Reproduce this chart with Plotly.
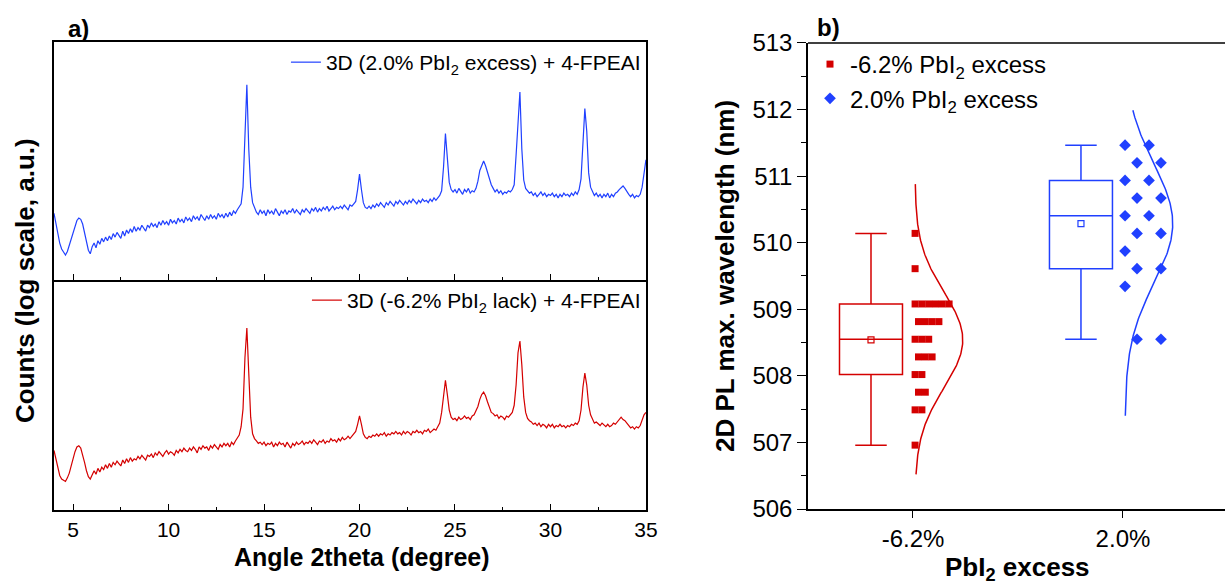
import numpy as np
import plotly.graph_objects as go

# ---------------- data: panel a) XRD, log10(counts) ----------------
# sampled every 0.1 degree from 4.0 to 35.0 (one row per degree)
ANGLE = np.round(np.arange(4.0, 35.0001, 0.1), 1)

LOG_COUNTS_EXCESS = [  # 3D (2.0% PbI2 excess) + 4-FPEAI
    2.56, 2.47, 2.38, 2.31, 2.26, 2.24, 2.21, 2.24, 2.29, 2.34,   # 4
    2.41, 2.46, 2.50, 2.52, 2.51, 2.47, 2.40, 2.31, 2.25, 2.22,   # 5
    2.28, 2.31, 2.27, 2.33, 2.30, 2.35, 2.32, 2.36, 2.33, 2.37,   # 6
    2.34, 2.39, 2.36, 2.40, 2.38, 2.35, 2.41, 2.37, 2.42, 2.39,   # 7
    2.43, 2.40, 2.45, 2.41, 2.44, 2.42, 2.46, 2.43, 2.41, 2.46,   # 8
    2.44, 2.48, 2.45, 2.47, 2.44, 2.49, 2.46, 2.50, 2.47, 2.49,   # 9
    2.46, 2.51, 2.48, 2.50, 2.47, 2.52, 2.49, 2.51, 2.48, 2.53,   # 10
    2.50, 2.52, 2.49, 2.54, 2.51, 2.53, 2.50, 2.55, 2.52, 2.50,   # 11
    2.54, 2.51, 2.55, 2.52, 2.54, 2.51, 2.56, 2.53, 2.55, 2.52,   # 12
    2.56, 2.53, 2.57, 2.54, 2.58, 2.56, 2.59, 2.61, 2.64, 2.78,   # 13
    3.25, 3.64, 3.10, 2.78, 2.65, 2.60, 2.57, 2.55, 2.59, 2.56,   # 14
    2.58, 2.54, 2.59, 2.56, 2.58, 2.55, 2.60, 2.57, 2.54, 2.58,   # 15
    2.56, 2.59, 2.55, 2.58, 2.57, 2.60, 2.56, 2.59, 2.57, 2.55,   # 16
    2.59, 2.57, 2.60, 2.58, 2.56, 2.60, 2.58, 2.61, 2.57, 2.60,   # 17
    2.58, 2.61, 2.59, 2.62, 2.58, 2.60, 2.62, 2.59, 2.61, 2.60,   # 18
    2.62, 2.60, 2.63, 2.61, 2.59, 2.63, 2.62, 2.64, 2.66, 2.76,   # 19
    2.89, 2.76, 2.65, 2.61, 2.60, 2.62, 2.60, 2.63, 2.61, 2.64,   # 20
    2.62, 2.65, 2.63, 2.61, 2.65, 2.63, 2.66, 2.64, 2.62, 2.66,   # 21
    2.64, 2.67, 2.65, 2.63, 2.66, 2.64, 2.67, 2.65, 2.68, 2.66,   # 22
    2.64, 2.67, 2.65, 2.68, 2.66, 2.67, 2.65, 2.68, 2.66, 2.69,   # 23
    2.67, 2.69, 2.71, 2.75, 2.95, 3.23, 3.02, 2.82, 2.76, 2.74,   # 24
    2.76, 2.73, 2.77, 2.74, 2.72, 2.76, 2.74, 2.77, 2.73, 2.75,   # 25
    2.74, 2.77, 2.83, 2.92, 2.97, 3.00, 2.96, 2.90, 2.84, 2.80,   # 26
    2.77, 2.74, 2.76, 2.73, 2.75, 2.72, 2.74, 2.73, 2.75, 2.74,   # 27
    2.76, 2.80, 3.05, 3.30, 3.58, 3.10, 2.84, 2.77, 2.75, 2.73,   # 28
    2.74, 2.71, 2.73, 2.70, 2.72, 2.74, 2.71, 2.73, 2.70, 2.72,   # 29
    2.71, 2.73, 2.70, 2.72, 2.69, 2.72, 2.70, 2.73, 2.71, 2.72,   # 30
    2.70, 2.73, 2.71, 2.74, 2.72, 2.76, 2.85, 3.15, 3.44, 3.25,   # 31
    2.90, 2.78, 2.74, 2.71, 2.73, 2.70, 2.72, 2.69, 2.72, 2.70,   # 32
    2.73, 2.69, 2.72, 2.70, 2.73, 2.74, 2.76, 2.78, 2.79, 2.77,   # 33
    2.75, 2.72, 2.70, 2.72, 2.69, 2.71, 2.70, 2.72, 2.78, 2.88,   # 34
    3.01,                                                         # 35
]

LOG_COUNTS_LACK = [  # 3D (-6.2% PbI2 lack) + 4-FPEAI
    2.50, 2.43, 2.35, 2.29, 2.26, 2.25, 2.24, 2.27, 2.31, 2.37,   # 4
    2.44, 2.49, 2.53, 2.54, 2.52, 2.47, 2.40, 2.33, 2.28, 2.26,   # 5
    2.29, 2.33, 2.30, 2.35, 2.32, 2.36, 2.34, 2.38, 2.35, 2.39,   # 6
    2.36, 2.40, 2.38, 2.41, 2.39, 2.37, 2.42, 2.39, 2.43, 2.40,   # 7
    2.44, 2.41, 2.43, 2.42, 2.45, 2.43, 2.46, 2.44, 2.42, 2.46,   # 8
    2.45, 2.47, 2.44, 2.48, 2.46, 2.49, 2.47, 2.45, 2.48, 2.50,   # 9
    2.47, 2.49, 2.48, 2.46, 2.50, 2.48, 2.51, 2.49, 2.52, 2.50,   # 10
    2.49, 2.52, 2.50, 2.53, 2.51, 2.48, 2.53, 2.51, 2.54, 2.52,   # 11
    2.53, 2.50, 2.54, 2.52, 2.55, 2.53, 2.51, 2.55, 2.53, 2.56,   # 12
    2.54, 2.56, 2.53, 2.57, 2.55, 2.58, 2.60, 2.63, 2.70, 2.85,   # 13
    3.28, 3.53, 3.15, 2.78, 2.64, 2.60, 2.58, 2.56, 2.57, 2.55,   # 14
    2.57, 2.54, 2.56, 2.55, 2.57, 2.53, 2.56, 2.54, 2.57, 2.55,   # 15
    2.56, 2.53, 2.57, 2.55, 2.52, 2.56, 2.54, 2.57, 2.55, 2.56,   # 16
    2.58, 2.55, 2.57, 2.56, 2.58, 2.56, 2.59, 2.57, 2.55, 2.58,   # 17
    2.57, 2.59, 2.56, 2.58, 2.57, 2.60, 2.58, 2.59, 2.57, 2.60,   # 18
    2.58, 2.61, 2.59, 2.60, 2.62, 2.60, 2.62, 2.63, 2.66, 2.72,   # 19
    2.79, 2.72, 2.64, 2.61, 2.60, 2.62, 2.61, 2.63, 2.62, 2.64,   # 20
    2.62, 2.64, 2.63, 2.65, 2.62, 2.64, 2.63, 2.65, 2.64, 2.66,   # 21
    2.64, 2.65, 2.63, 2.66, 2.64, 2.66, 2.65, 2.63, 2.66, 2.65,   # 22
    2.67, 2.65, 2.66, 2.64, 2.67, 2.66, 2.68, 2.65, 2.67, 2.68,   # 23
    2.67, 2.70, 2.73, 2.82, 2.98, 3.09, 2.97, 2.84, 2.78, 2.76,   # 24
    2.77, 2.75, 2.78, 2.76, 2.77, 2.79, 2.77, 2.78, 2.76, 2.79,   # 25
    2.80, 2.83, 2.87, 2.93, 2.97, 2.99, 2.96, 2.91, 2.86, 2.82,   # 26
    2.81, 2.79, 2.80, 2.77, 2.79, 2.78, 2.76, 2.79, 2.78, 2.80,   # 27
    2.82, 2.88, 3.05, 3.32, 3.42, 3.22, 2.95, 2.82, 2.77, 2.75,   # 28
    2.74, 2.72, 2.73, 2.71, 2.73, 2.70, 2.72, 2.71, 2.69, 2.72,   # 29
    2.70, 2.72, 2.69, 2.71, 2.70, 2.72, 2.70, 2.71, 2.69, 2.71,   # 30
    2.70, 2.72, 2.71, 2.73, 2.72, 2.75, 2.84, 3.03, 3.15, 3.05,   # 31
    2.88, 2.80, 2.76, 2.73, 2.74, 2.72, 2.71, 2.73, 2.71, 2.70,   # 32
    2.72, 2.70, 2.71, 2.73, 2.72, 2.74, 2.76, 2.78, 2.76, 2.75,   # 33
    2.73, 2.71, 2.69, 2.70, 2.68, 2.70, 2.69, 2.71, 2.75, 2.80,   # 34
    2.82,                                                         # 35
]

assert len(ANGLE) == len(LOG_COUNTS_EXCESS) == len(LOG_COUNTS_LACK)

# ---------------- data: panel b) 2D PL peak wavelength ----------------
CATEGORIES = ["-6.2%", "2.0%"]
PL_LACK = [506.96, 507.49, 507.49, 507.755, 507.755, 508.02, 508.02,
           508.285, 508.285, 508.285, 508.55, 508.55, 508.55,
           508.815, 508.815, 508.815, 508.815,
           509.08, 509.08, 509.08, 509.08, 509.08, 509.08, 509.61, 510.14]
PL_EXCESS = [508.55, 508.55, 509.345, 509.61, 509.61, 509.875,
             510.14, 510.14, 510.405, 510.405, 510.67, 510.67,
             510.935, 510.935, 511.2, 511.2, 511.465, 511.465]
CURVE_SPAN_LACK = [506.52, 510.88]
CURVE_SPAN_EXCESS = [507.40, 511.99]
WAVELENGTH_STEP = 0.265

BLUE = "#2040FF"
RED = "#D40000"
FONT = "Liberation Sans, Arial, sans-serif"

fig = go.Figure()

# ---- panel a traces
fig.add_trace(go.Scatter(
    x=ANGLE, y=[10 ** v for v in LOG_COUNTS_EXCESS], mode="lines",
    line=dict(color=BLUE, width=1.2),
    name="3D (2.0% PbI<sub>2</sub> excess) + 4-FPEAI",
    xaxis="x2", yaxis="y2", legend="legend"))
fig.add_trace(go.Scatter(
    x=ANGLE, y=[10 ** v for v in LOG_COUNTS_LACK], mode="lines",
    line=dict(color=RED, width=1.2),
    name="3D (-6.2% PbI<sub>2</sub> lack) + 4-FPEAI",
    xaxis="x", yaxis="y", legend="legend2"))

# ---- panel b traces
groups = [
    (1, PL_LACK, RED, "square", 7, 0.0162, CURVE_SPAN_LACK, "-6.2% PbI<sub>2</sub> excess"),
    (2, PL_EXCESS, BLUE, "diamond", 9, 0.057, CURVE_SPAN_EXCESS, "2.0% PbI<sub>2</sub> excess"),
]
for pos, vals, col, sym, msize, unit, span, label in groups:
    arr = np.array(vals)
    fig.add_trace(go.Box(
        x=[pos - 0.2] * len(vals), y=vals, width=0.3, whiskerwidth=0.5,
        quartilemethod="exclusive", boxpoints=False,
        line=dict(color=col, width=1.5), fillcolor="rgba(0,0,0,0)",
        showlegend=False, xaxis="x3", yaxis="y3", hoverinfo="skip"))
    fig.add_trace(go.Scatter(
        x=[pos - 0.2], y=[arr.mean()], mode="markers",
        marker=dict(symbol="square-open", size=6, color=col, line=dict(width=1.2, color=col)),
        showlegend=False, xaxis="x3", yaxis="y3"))
    vmax = arr.max()
    xs = []
    used = {}
    for v in vals:
        level = int(round((vmax - v) / WAVELENGTH_STEP))
        k = used.get(v, 0)
        used[v] = k + 1
        slot = (level % 2) + 2 * k
        xs.append(pos + 0.01 + slot * unit)
    fig.add_trace(go.Scatter(
        x=xs, y=vals, mode="markers", name=label,
        marker=dict(symbol=sym, size=msize, color=col, line=dict(width=0)),
        xaxis="x3", yaxis="y3", legend="legend3", legendgroup=label))
    mu, sd = arr.mean(), arr.std(ddof=1)
    yy = np.linspace(span[0], span[1], 200)
    xx = pos + 0.01 + 0.227 * np.exp(-0.5 * ((yy - mu) / sd) ** 2)
    fig.add_trace(go.Scatter(
        x=xx, y=yy, mode="lines", line=dict(color=col, width=1.5),
        showlegend=False, xaxis="x3", yaxis="y3", hoverinfo="skip"))

LEFT_DOM = [0.0, 0.5055]
RIGHT_DOM = [0.6439, 1.0]
SPLIT = 0.4915

axis_common = dict(showline=True, linecolor="black", linewidth=1.5, showgrid=False,
                   zeroline=False, automargin=False)
xtick_common = dict(range=[4, 35], ticks="inside", ticklen=6, tickwidth=1.2,
                    tickcolor="black", tick0=0, dtick=5,
                    minor=dict(dtick=2.5, tick0=0, ticks="inside", ticklen=3,
                               tickcolor="black"))

fig.update_layout(
    width=1225, height=586, autosize=False,
    margin=dict(l=54, r=0, t=42, b=76),
    paper_bgcolor="white", plot_bgcolor="white",
    font=dict(family=FONT, size=18, color="black"),
    showlegend=True,
    xaxis=dict(domain=LEFT_DOM, anchor="y", mirror=False, tickfont=dict(size=21),
               **xtick_common, **axis_common),
    yaxis=dict(domain=[0, SPLIT], anchor="x", type="log", range=[2.0, 3.933],
               mirror=True, showticklabels=False, ticks="", **axis_common),
    xaxis2=dict(domain=LEFT_DOM, anchor="y2", mirror=True, showticklabels=False,
                **xtick_common, **axis_common),
    yaxis2=dict(domain=[SPLIT, 1], anchor="x2", type="log", range=[2.0, 4.0],
                mirror=True, showticklabels=False, ticks="", **axis_common),
    xaxis3=dict(domain=RIGHT_DOM, anchor="y3", range=[0.5, 2.486], mirror=False,
                tickmode="array", tickvals=[1, 2], ticktext=CATEGORIES,
                ticks="outside", ticklen=7, tickwidth=1.2, tickcolor="black",
                tickfont=dict(size=24), **axis_common),
    yaxis3=dict(domain=[0.002, 0.998], anchor="x3", range=[506, 513], mirror=False,
                ticks="outside", ticklen=9, tickwidth=1.2, tickcolor="black",
                dtick=1, tickfont=dict(size=24),
                minor=dict(dtick=0.5, ticks="outside", ticklen=5, tickcolor="black"),
                **axis_common),
    # top frame of panel b (the right frame edge lies outside the cropped picture)
    shapes=[dict(type="line", xref="x3 domain", yref="y3 domain", x0=0, x1=1, y0=1, y1=1,
                 line=dict(color="black", width=1.5))],
    legend=dict(x=LEFT_DOM[1], y=1.0, xanchor="right", yanchor="top",
                bgcolor="rgba(0,0,0,0)", font=dict(size=21)),
    legend2=dict(x=LEFT_DOM[1], y=SPLIT, xanchor="right", yanchor="top",
                 bgcolor="rgba(0,0,0,0)", font=dict(size=21)),
    legend3=dict(x=0.6456, y=1.0, xanchor="left", yanchor="top",
                 bgcolor="rgba(0,0,0,0)", font=dict(size=24), tracegroupgap=0),
    annotations=[
        dict(text="<b>Angle 2theta (degree)</b>", xref="paper", yref="paper",
             x=0.263, y=-0.1004, xanchor="center", yanchor="middle", showarrow=False,
             font=dict(size=25)),
        dict(text="<b>Counts (log scale, a.u.)</b>", textangle=-90, xref="paper", yref="paper",
             x=-0.0248, y=0.4915, xanchor="center", yanchor="middle", showarrow=False,
             font=dict(size=26)),
        dict(text="<b>2D PL max. wavelength (nm)</b>", textangle=-90, xref="paper", yref="paper",
             x=0.573, y=0.5, xanchor="center", yanchor="middle", showarrow=False,
             font=dict(size=26)),
        dict(text="<b>PbI<sub>2</sub> excess</b>", xref="paper", yref="paper",
             x=0.8224, y=-0.126, xanchor="center", yanchor="middle", showarrow=False,
             font=dict(size=26)),
        dict(text="<b>a)</b>", xref="paper", yref="paper", x=0.0205, y=1.0278,
             xanchor="center", yanchor="middle", showarrow=False, font=dict(size=24)),
        dict(text="<b>b)</b>", xref="paper", yref="paper", x=0.661, y=1.032,
             xanchor="center", yanchor="middle", showarrow=False, font=dict(size=24)),
    ],
)

fig.write_html(
    "out.html",
    config={"responsive": False},
    post_script=("document.documentElement.style.overflow='hidden';"
                 "document.body.style.margin='0';document.body.style.overflow='hidden';"),
)
